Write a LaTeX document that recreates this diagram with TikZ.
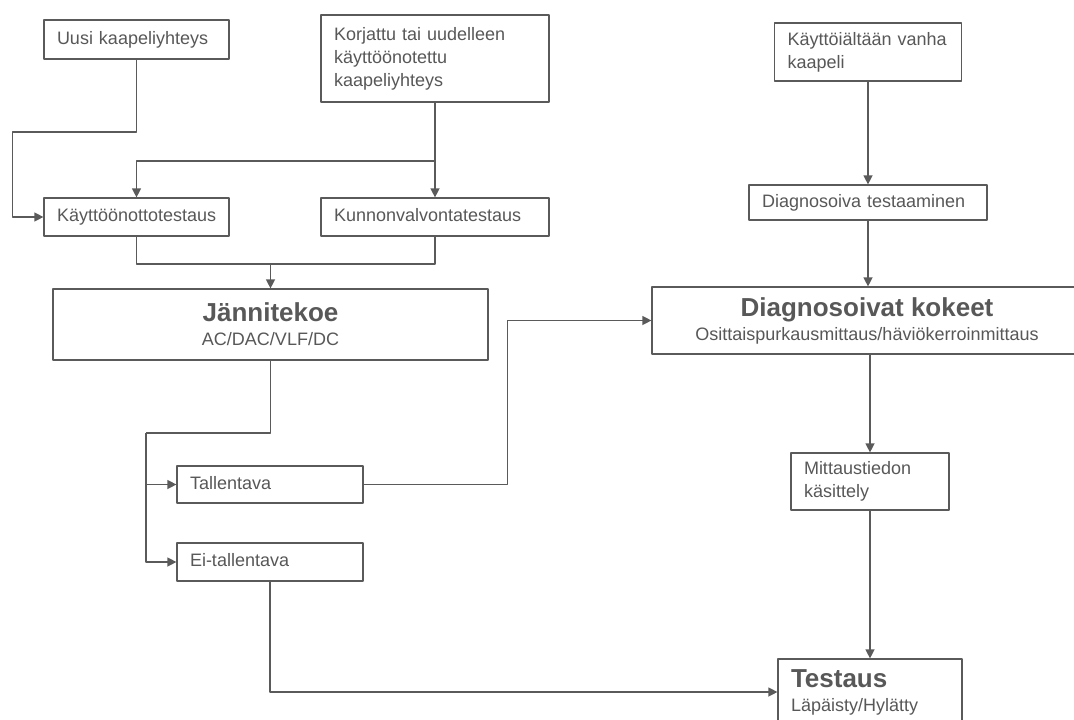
\documentclass[tikz,border=0pt]{standalone}
\usepackage{fontspec}
\setmainfont{Liberation Sans}
\usetikzlibrary{arrows.meta}
\definecolor{linegray}{RGB}{90,90,90}
\definecolor{textgray}{RGB}{88,88,88}
\begin{document}
\begin{tikzpicture}[x=1pt,y=-1pt,line join=round,
	>={Triangle[length=9pt,width=9pt]},
	box/.style={draw=linegray,line width=1.2pt,fill=white,text=textgray,inner xsep=13pt,inner ysep=0pt,align=left,font=\fontsize{18}{23}\selectfont},
	oneline/.style={text height=13pt,text depth=4pt},
	bigbox/.style={draw=linegray,line width=1.2pt,fill=white,text=textgray,inner sep=0pt,align=center,font=\fontsize{18}{24}\selectfont},
	conn/.style={draw=linegray,line width=1.3pt}]
	\useasboundingbox (0,0) rectangle (1074,720);
	\clip (0,0) rectangle (1074,720);
	
	\node[box,oneline,text width=159pt,minimum height=39pt] (uusi) at (136.5,39.5) {Uusi kaapeliyhteys};
	\node[box,text width=202pt,minimum height=87pt] (korjattu) at (435,58.5) {Korjattu tai uudelleen\\käyttöönotettu\\kaapeliyhteys};
	\node[box,oneline,text width=159pt,minimum height=38pt] (kayttoon) at (136.5,217) {Käyttöönottotestaus};
	\node[box,oneline,text width=202pt,minimum height=38pt] (kunnon) at (435,217) {Kunnonvalvontatestaus};
	\node[bigbox,minimum width=435pt,minimum height=71pt] (jannite) at (270.5,324.5) {{\usefont{TU}{\familydefault}{bx}{n}\fontsize{26}{30}\selectfont Jännitekoe}\\AC/DAC/VLF/DC};
	\node[box,oneline,text width=160pt,minimum height=37pt] (tallentava) at (270,484.5) {Tallentava};
	\node[box,oneline,text width=160pt,minimum height=38pt] (eitall) at (270,562) {Ei-tallentava};
	
	\node[box,text width=161pt,minimum height=58pt] (vanha) at (868,52) {Käyttöiältään vanha\\kaapeli};
	\node[box,oneline,text width=212pt,minimum height=35pt] (diagtest) at (868,202.5) {Diagnosoiva testaaminen};
	\node[bigbox,minimum width=430pt,minimum height=67pt] (diagkok) at (867,320.5) {{\usefont{TU}{\familydefault}{bx}{n}\fontsize{26}{30}\selectfont Diagnosoivat kokeet}\\Osittaispurkausmittaus/häviökerroinmittaus};
	\node[box,text width=132pt,minimum height=57pt] (mittaus) at (870,481.5) {Mittaustiedon\\käsittely};
	\node[box,text width=158pt,minimum height=66pt,font=\fontsize{18}{24}\selectfont] (testaus) at (870,692) {{\usefont{TU}{\familydefault}{bx}{n}\fontsize{26}{30}\selectfont Testaus}\\Läpäisty/Hylätty};
	
	\coordinate (uusibend) at (12.5,132);
	\coordinate (split) at (435,161);
	\coordinate (merge) at (270.5,264);
	\coordinate (fork) at (146,433);
	
	\draw[conn,->] (uusi.south) |- (uusibend) |- (kayttoon.west);
	\draw[conn,->] (korjattu.south) -- (kunnon.north);
	\draw[conn,->] (split) -| (kayttoon.north);
	\draw[conn] (kayttoon.south) |- (merge);
	\draw[conn] (kunnon.south) |- (merge);
	\draw[conn,->] (merge) -- (jannite.north);
	\draw[conn] (jannite.south) |- (fork);
	\draw[conn,->] (fork) |- (tallentava.west);
	\draw[conn,->] (fork) |- (eitall.west);
	\draw[conn,->] (tallentava.east) -- ++(144,0) |- (diagkok.west);
	\draw[conn,->] (eitall.south) |- (testaus.west);
	
	\draw[conn,->] (vanha.south) -- (diagtest.north);
	\draw[conn,->] (diagtest.south) -- (diagtest.south |- diagkok.north);
	\draw[conn,->] (mittaus.north |- diagkok.south) -- (mittaus.north);
	\draw[conn,->] (mittaus.south) -- (testaus.north);
\end{tikzpicture}
\end{document}
